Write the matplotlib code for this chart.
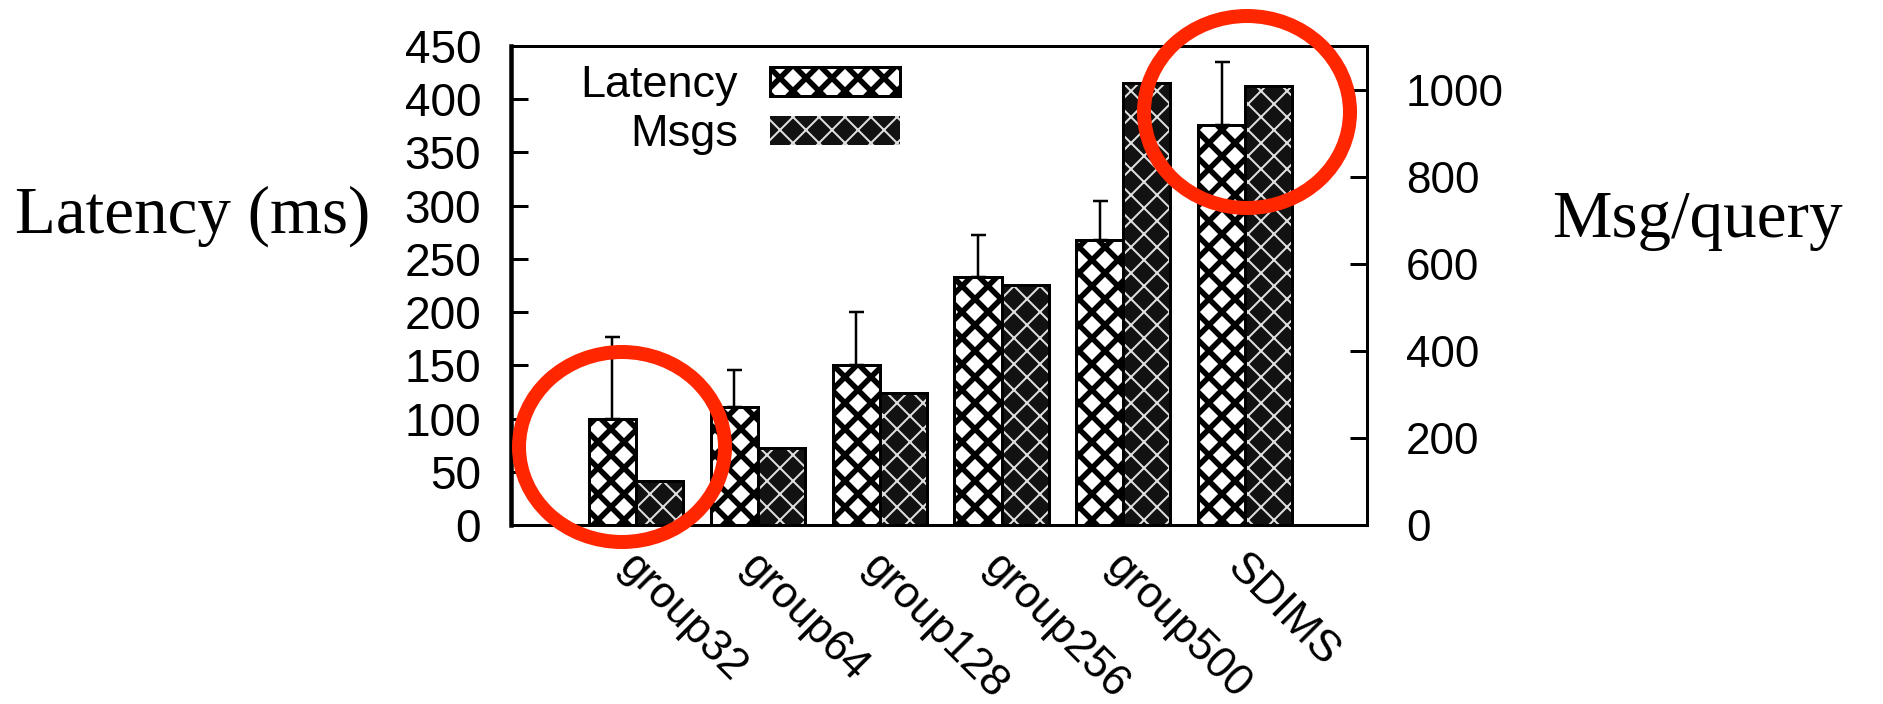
import numpy as np
import matplotlib
matplotlib.use("Agg")
import matplotlib.pyplot as plt
from matplotlib.patches import Patch, Ellipse
from matplotlib.transforms import ScaledTranslation

# data
groups = ["group32", "group64", "group128", "group256", "group500", "SDIMS"]
latency = [100, 111, 150, 233, 268, 376]
latency_err = [77, 35, 50, 39, 36, 59]
msgs = [100, 177, 303, 552, 1015, 1010]
left_ticks = [0, 50, 100, 150, 200, 250, 300, 350, 400, 450]
right_ticks = [0, 200, 400, 600, 800, 1000]

DPI = 78  # hatch period follows dpi, 78 gives ~13px diamonds
W, H = 1883, 704


def pt(v):
    # pixels -> points
    return v * 72.0 / DPI


plt.rcParams['font.family'] = ['Liberation Sans', 'DejaVu Sans']
plt.rcParams['hatch.linewidth'] = pt(5.5)

fig = plt.figure(figsize=(W / DPI, H / DPI), dpi=DPI)
ax = fig.add_axes([511 / W, 1 - 525 / H, (1367 - 511) / W, (525 - 46) / H])
ax2 = ax.twinx()

x = np.arange(len(groups))
bw = 0.386

# latency bars: white with heavy black cross hatch
lat_bars = ax.bar(x - bw / 2, latency, bw, facecolor="white", edgecolor="black",
                  hatch="x", linewidth=pt(3), zorder=2)
ax.errorbar(x - bw / 2, latency, yerr=[np.zeros(len(latency)), latency_err],
            fmt="none", ecolor="black", elinewidth=pt(2.5), capsize=pt(7.5),
            capthick=pt(2.5), zorder=3)

# msgs bars: dark with white hatch, outlined in black
msg_bars = ax2.bar(x + bw / 2, msgs, bw, facecolor="#121212", edgecolor="#e0e0e0",
                   hatch="x", linewidth=0, zorder=2)
ax2.bar(x + bw / 2, msgs, bw, fill=False, edgecolor="black",
        linewidth=pt(3), zorder=3)
for p in msg_bars:
    if hasattr(p, "set_hatch_linewidth"):
        p.set_hatch_linewidth(pt(2.0))

ax.set_xlim(-1.026, 6.0)
ax.set_ylim(0, 450)
ax2.set_ylim(0, 1101)

ax.set_yticks(left_ticks)
ax2.set_yticks(right_ticks)
ax.tick_params(axis="y", direction="in", length=pt(17), width=pt(3),
               labelsize=pt(46), pad=pt(30))
ax2.tick_params(axis="y", direction="in", length=pt(17), width=pt(3),
                labelsize=pt(44), pad=pt(39))
ax.tick_params(axis="x", length=0, labelsize=pt(44), pad=0)
ax2.tick_params(axis="x", length=0)

ax.set_xticks(x)
ax.set_xticklabels(groups, rotation=-45, ha="left", va="top",
                   rotation_mode="anchor")
off = ScaledTranslation(3 / DPI, -21 / DPI, fig.dpi_scale_trans)
for lab in ax.get_xticklabels():
    lab.set_transform(lab.get_transform() + off)

for a in (ax, ax2):
    for s in a.spines.values():
        s.set_linewidth(pt(3))
ax.spines["left"].set_linewidth(pt(4.5))

handles = [Patch(facecolor="white", edgecolor="black", hatch="x", linewidth=pt(3)),
           Patch(facecolor="#121212", edgecolor="#e0e0e0", hatch="x", linewidth=0)]
leg = ax2.legend(handles, ["Latency", "Msgs"], loc="upper right",
                 bbox_to_anchor=(0.454, 0.96), frameon=False, markerfirst=False,
                 fontsize=pt(45), handlelength=130 / 45, handleheight=28 / 45,
                 handletextpad=0.7, labelspacing=0.18, borderpad=0, borderaxespad=0)
for h in leg.legend_handles[1:]:
    if hasattr(h, "set_hatch_linewidth"):
        h.set_hatch_linewidth(pt(2.0))

fig.text(15 / W, 1 - 233 / H, "Latency (ms)", family="Liberation Serif",
         fontsize=pt(67), va="baseline", ha="left")
fig.text(1552 / W, 1 - 237 / H, "Msg/query", family="Liberation Serif",
         fontsize=pt(67), va="baseline", ha="left")

# red annotation rings
for cx, cy, rw, rh in [(622, 447, 206, 190), (1247, 112, 206, 192)]:
    fig.add_artist(Ellipse((cx / W, 1 - cy / H), rw / W, rh / H,
                           transform=fig.transFigure, fill=False,
                           edgecolor="#ff2600", linewidth=pt(14), zorder=10))

fig.savefig("out.png", dpi=DPI)
